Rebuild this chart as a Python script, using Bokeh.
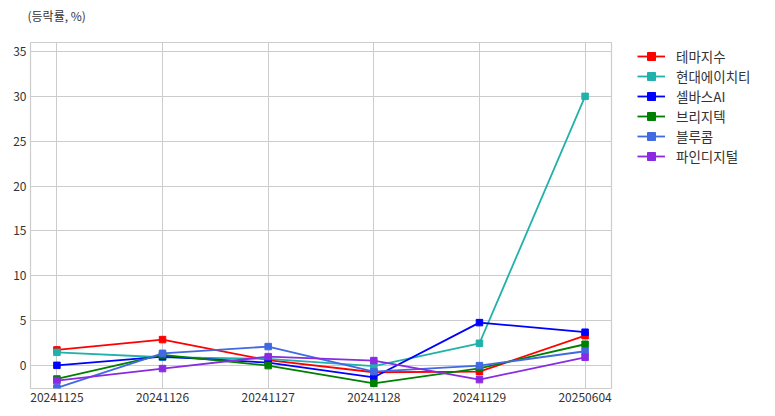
from bokeh.plotting import figure
from bokeh.models import Range1d, FixedTicker, Legend, LegendItem, Title
from bokeh.embed import file_html
from bokeh.resources import INLINE

dates = ["20241125", "20241126", "20241127", "20241128", "20241129", "20250604"]
names = ["테마지수", "현대에이치티", "셀바스AI", "브리지텍", "블루콤", "파인디지털"]
colors = ["#ff0000", "#20b2aa", "#0000ff", "#008000", "#4169e1", "#8a2be2"]

theme_idx = [1.75, 2.9, 0.6, -0.74, -0.67, 3.34]
hyundai_ht = [1.48, 0.93, 0.75, -0.05, 2.49, 30.0]
selvas_ai = [0.03, 1.0, 0.33, -1.3, 4.79, 3.72]
bridgetec = [-1.49, 1.19, 0.0, -1.97, -0.3, 2.38]
bluecom = [-2.49, 1.37, 2.12, -0.67, 0.0, 1.6]
finedigital = [-1.67, -0.33, 1.0, 0.56, -1.56, 0.93]
series = [theme_idx, hyundai_ht, selvas_ai, bridgetec, bluecom, finedigital]

y_ticks = [0, 5, 10, 15, 20, 25, 30, 35]

FONT = "Noto Sans CJK KR"
xs = list(range(len(dates)))

p = figure(frame_width=581, frame_height=346, output_backend="svg", toolbar_location=None,
           x_range=Range1d(-0.25, len(dates) - 0.75), y_range=Range1d(-2.55, 36.0),
           min_border_left=30, min_border_right=150, min_border_top=42, min_border_bottom=14)

p.outline_line_color = "#cccccc"
p.outline_line_width = 1.2
p.background_fill_color = "white"
p.border_fill_color = "white"

p.xaxis.ticker = FixedTicker(ticks=xs)
p.xaxis.major_label_overrides = {i: d for i, d in enumerate(dates)}
p.yaxis.ticker = FixedTicker(ticks=y_ticks)
for ax in (p.xaxis, p.yaxis):
    ax.axis_line_color = None
    ax.major_tick_line_color = None
    ax.minor_tick_line_color = None
    ax.major_tick_out = 0
    ax.major_tick_in = 0
    ax.major_label_text_font = FONT
    ax.major_label_text_font_size = "12px"
    ax.major_label_text_color = "#333333"
    ax.major_label_standoff = 4

p.xgrid.grid_line_color = "#cccccc"
p.ygrid.grid_line_color = "#cccccc"
p.xgrid.grid_line_width = 1
p.ygrid.grid_line_width = 1

items = []
for name, col, vals in zip(names, colors, series):
    r1 = p.line(xs, vals, line_color=col, line_width=1.8)
    r2 = p.scatter(xs, vals, marker="square", size=6.5, fill_color=col, line_color=col)
    items.append(LegendItem(label=name, renderers=[r1, r2]))

legend = Legend(items=items, location=(26, 222))
legend.border_line_color = None
legend.background_fill_alpha = 0
legend.padding = 0
legend.margin = 0
legend.spacing = 0
legend.glyph_width = 28
legend.glyph_height = 20
legend.label_height = 20
legend.label_standoff = 11
legend.label_text_font = FONT
legend.label_text_font_size = "13.5px"
legend.label_text_color = "#333333"
p.add_layout(legend, "right")

spacer = Title(text=".", standoff=13, text_font_size="1px", text_color="white")
p.add_layout(spacer, "above")

title = Title(text="(등락률, %)", align="left", offset=-3, standoff=5,
              text_font=FONT, text_font_size="12px", text_color="#333333",
              text_font_style="normal")
p.add_layout(title, "above")

open("out.html", "w").write(file_html(p, INLINE))
